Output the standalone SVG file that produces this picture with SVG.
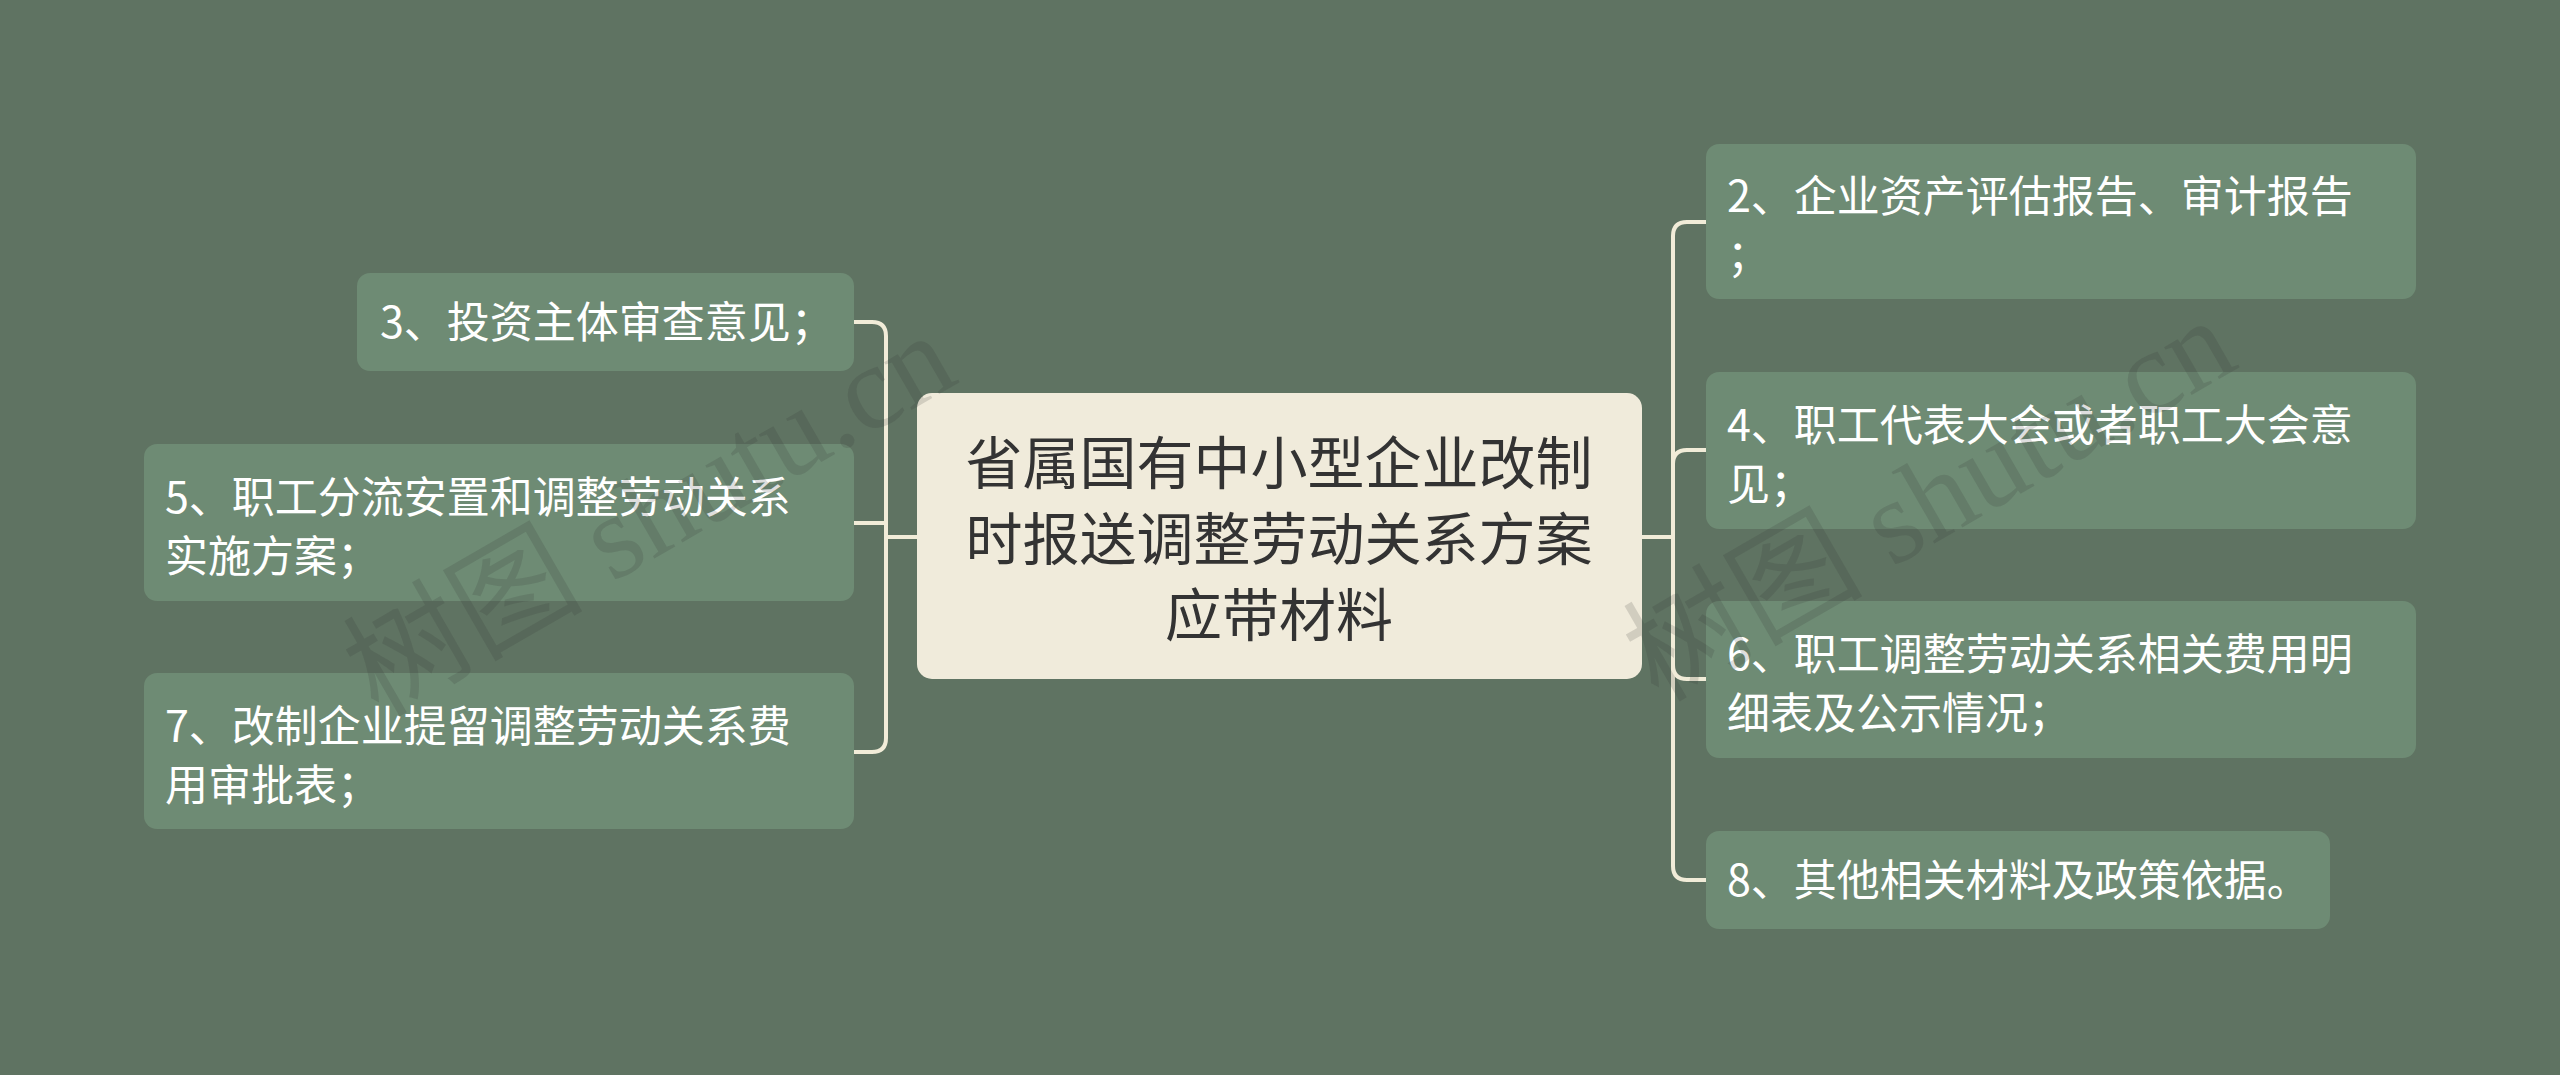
<svg xmlns="http://www.w3.org/2000/svg" width="2560" height="1075" viewBox="0 0 2560 1075">
<style>
.bg{fill:#5f7362}
.node rect{fill:#6e8b74}
.node text{fill:#ffffff;font-family:"Noto Sans CJK SC","Noto Sans",sans-serif;font-size:43px}
.root rect{fill:#f0ebdb}
.root text{fill:#333333;font-family:"Noto Sans CJK SC","Noto Sans",sans-serif;font-size:57px;text-anchor:middle}
.conn path{fill:none;stroke:#f1ecd8;stroke-width:4;stroke-linecap:round}
.wm{fill:#333333;fill-opacity:0.16;font-family:"Liberation Serif","Noto Sans CJK SC",serif;font-size:120px}
</style>
<rect class="bg" x="0" y="0" width="2560" height="1075"/>
<g id="connectors" class="conn">
<path d="M917,537 H886"/>
<path d="M886,537 V336 Q886,322 872,322 H854"/>
<path d="M886,537 V523 H854"/>
<path d="M886,537 V738 Q886,752 872,752 H854"/>
<path d="M1642,537 H1673"/>
<path d="M1673,537 V236 Q1673,222 1687,222 H1706"/>
<path d="M1673,537 V464 Q1673,450 1687,450 H1706"/>
<path d="M1673,537 V665 Q1673,679 1687,679 H1706"/>
<path d="M1673,537 V866 Q1673,880 1687,880 H1706"/>
</g>
<g id="root" class="root">
<rect x="917" y="393" width="725" height="286" rx="15"/>
<text x="1279" y="484">省属国有中小型企业改制</text>
<text x="1279" y="560">时报送调整劳动关系方案</text>
<text x="1279" y="636">应带材料</text>
</g>
<g id="n3" class="node">
<rect x="357" y="273" width="497" height="98" rx="13"/>
<text x="380" y="338">3、投资主体审查意见；</text>
</g>
<g id="n5" class="node">
<rect x="144" y="444" width="710" height="157" rx="13"/>
<text x="165" y="513">5、职工分流安置和调整劳动关系</text>
<text x="165" y="572">实施方案；</text>
</g>
<g id="n7" class="node">
<rect x="144" y="673" width="710" height="156" rx="13"/>
<text x="165" y="742">7、改制企业提留调整劳动关系费</text>
<text x="165" y="801">用审批表；</text>
</g>
<g id="n2" class="node">
<rect x="1706" y="144" width="710" height="155" rx="13"/>
<text x="1727" y="212">2、企业资产评估报告、审计报告</text>
<text x="1727" y="271">；</text>
</g>
<g id="n4" class="node">
<rect x="1706" y="372" width="710" height="157" rx="13"/>
<text x="1727" y="441">4、职工代表大会或者职工大会意</text>
<text x="1727" y="500">见；</text>
</g>
<g id="n6" class="node">
<rect x="1706" y="601" width="710" height="157" rx="13"/>
<text x="1727" y="670">6、职工调整劳动关系相关费用明</text>
<text x="1727" y="729">细表及公示情况；</text>
</g>
<g id="n8" class="node">
<rect x="1706" y="831" width="624" height="98" rx="13"/>
<text x="1727" y="896">8、其他相关材料及政策依据。</text>
</g>
<g id="watermarks">
<text class="wm" transform="translate(378,718) rotate(-30)">树图 shutu.cn</text>
<text class="wm" transform="translate(1658,703) rotate(-30)">树图 shutu.cn</text>
</g>
</svg>
